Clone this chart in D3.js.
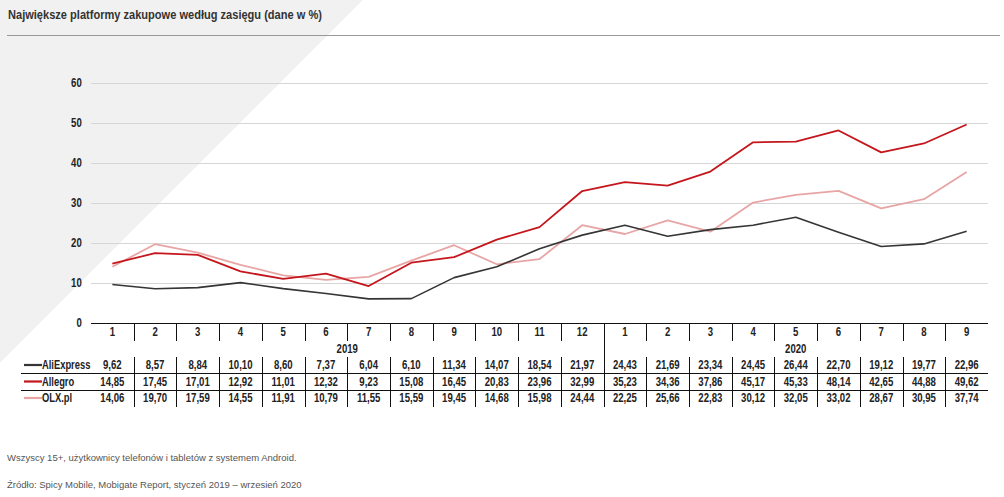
<!DOCTYPE html>
<html>
<head>
<meta charset="utf-8">
<script src="https://cdn.jsdelivr.net/npm/d3@7"></script>
<style>
  body { margin: 0; background: #fff; }
  svg text { font-family: "Liberation Sans", Arial, sans-serif; }
</style>
</head>
<body>
<div id="chart"></div>
<script>
// month labels along the x axis
const months = [1,2,3,4,5,6,7,8,9,10,11,12,1,2,3,4,5,6,7,8,9];
const years = [{label: '2019', from: 0, to: 11}, {label: '2020', from: 12, to: 20}];

const aliexpress = [9.62,8.57,8.84,10.10,8.60,7.37,6.04,6.10,11.34,14.07,18.54,21.97,24.43,21.69,23.34,24.45,26.44,22.70,19.12,19.77,22.96];
const allegro    = [14.85,17.45,17.01,12.92,11.01,12.32,9.23,15.08,16.45,20.83,23.96,32.99,35.23,34.36,37.86,45.17,45.33,48.14,42.65,44.88,49.62];
const olx        = [14.06,19.70,17.59,14.55,11.91,10.79,11.55,15.59,19.45,14.68,15.98,24.44,22.25,25.66,22.83,30.12,32.05,33.02,28.67,30.95,37.74];

const seriesNames = ['AliExpress', 'Allegro', 'OLX.pl'];
const seriesColors = ['#353535', '#c4161c', '#e8a5a5'];
const yTicks = [0,10,20,30,40,50,60];

const W = 1004, H = 497;
const plotLeft = 91, plotRight = 988, plotTop = 83, plotBottom = 323;
const squeeze = 0.8; // no narrow font installed, so squash text horizontally

const svg = d3.select('#chart').append('svg')
  .attr('width', W).attr('height', H);

// narrow text helper
function ntext(g, px, py, sx) {
  return g.append('text')
    .attr('transform', `translate(${px},${py}) scale(${sx || squeeze},1)`);
}

// grey diagonal background
svg.append('path')
  .attr('d', `M0,0 L363,0 L0,363 Z`)
  .attr('fill', '#f1f1f1');

// title and rule
ntext(svg, 8, 19, 0.82)
  .attr('font-size', 13.5).attr('font-weight', 'bold').attr('fill', '#333')
  .text('Największe platformy zakupowe według zasięgu (dane w %)');
svg.append('line')
  .attr('x1', 7).attr('x2', 1000).attr('y1', 35.5).attr('y2', 35.5)
  .attr('stroke', '#999').attr('stroke-width', 1);

const x = d3.scaleBand()
  .domain(d3.range(months.length))
  .range([plotLeft, plotRight]);

const y = d3.scaleLinear()
  .domain([0, 60])
  .range([plotBottom, plotTop]);

// gridlines
svg.append('g')
  .selectAll('line')
  .data(yTicks.filter(d => d > 0))
  .enter().append('line')
    .attr('x1', plotLeft).attr('x2', plotRight)
    .attr('y1', d => Math.round(y(d)) + 0.5).attr('y2', d => Math.round(y(d)) + 0.5)
    .attr('stroke', '#d6d6d6');

// y axis labels
let yAxis = svg.append('g')
  .attr('transform', `translate(${plotLeft},0)`)
  .call(d3.axisLeft(y).tickValues(yTicks).tickSize(0).tickPadding(11.5));
yAxis.select('.domain').remove();
yAxis.selectAll('text')
  .attr('transform', `scale(${squeeze},1)`)
  .attr('font-size', 12).attr('font-weight', 'bold').attr('fill', '#222')
  .style('font-family', '"Liberation Sans", Arial, sans-serif');

// baseline
svg.append('line')
  .attr('x1', plotLeft).attr('x2', plotRight)
  .attr('y1', plotBottom + 0.5).attr('y2', plotBottom + 0.5)
  .attr('stroke', '#111');

// lines
const allSeries = [aliexpress, allegro, olx];
const line = d3.line()
  .x((d, i) => x(i) + x.bandwidth() / 2)
  .y(d => y(d));

// draw pink first, then grey, then red on top
[2, 0, 1].forEach(k => {
  svg.append('path')
    .datum(allSeries[k])
    .attr('fill', 'none')
    .attr('stroke', seriesColors[k])
    .attr('stroke-width', k == 0 ? 1.6 : 1.8)
    .attr('stroke-linejoin', 'round')
    .attr('d', line);
});

// month row
months.forEach((m, i) => {
  ntext(svg, x(i) + x.bandwidth() / 2, 336)
    .attr('text-anchor', 'middle')
    .attr('font-size', 12).attr('font-weight', 'bold').attr('fill', '#222')
    .text(m);
});

// year labels
years.forEach(d => {
  ntext(svg, (x(d.from) + x(d.to) + x.bandwidth()) / 2, 353)
    .attr('text-anchor', 'middle')
    .attr('font-size', 12).attr('font-weight', 'bold').attr('fill', '#222')
    .text(d.label);
});

// column dividers
const dividers = d3.range(1, months.length);
svg.append('g').selectAll('line')
  .data(dividers)
  .enter().append('line')
    .attr('x1', i => Math.round(x(i)) + 0.5).attr('x2', i => Math.round(x(i)) + 0.5)
    .attr('y1', plotBottom)
    .attr('y2', 341)
    .attr('stroke', '#111');

svg.append('g').selectAll('line')
  .data(dividers)
  .enter().append('line')
    .attr('x1', i => Math.round(x(i)) + 0.5).attr('x2', i => Math.round(x(i)) + 0.5)
    .attr('y1', i => i == 12 ? 341 : 357)
    .attr('y2', 407)
    .attr('stroke', '#111');

// table rows
const rowY = [365, 381.5, 398];
const rowLines = [373, 390];
svg.append('g').selectAll('line')
  .data(rowLines)
  .enter().append('line')
    .attr('x1', 21).attr('x2', plotRight)
    .attr('y1', d => d + 0.5).attr('y2', d => d + 0.5)
    .attr('stroke', '#111');

allSeries.forEach((vals, k) => {
  // legend swatch + name
  svg.append('line')
    .attr('x1', 24).attr('x2', 42)
    .attr('y1', rowY[k]).attr('y2', rowY[k])
    .attr('stroke', seriesColors[k]).attr('stroke-width', 2.2);
  ntext(svg, 42, rowY[k] + 4.3, 0.78)
    .attr('font-size', 12).attr('font-weight', 'bold').attr('fill', '#222')
    .text(seriesNames[k]);

  vals.forEach((v, i) => {
    ntext(svg, x(i) + x.bandwidth() / 2, rowY[k] + 4.3)
      .attr('text-anchor', 'middle')
      .attr('font-size', 12).attr('font-weight', 'bold').attr('fill', '#222')
      .text(v.toFixed(2).replace('.', ','));
  });
});

// footnotes
svg.append('text')
  .attr('x', 7).attr('y', 461)
  .attr('font-size', 9.5).attr('fill', '#555')
  .text('Wszyscy 15+, użytkownicy telefonów i tabletów z systemem Android.');
svg.append('text')
  .attr('x', 7).attr('y', 488)
  .attr('font-size', 9.5).attr('fill', '#555')
  .text('Źródło: Spicy Mobile, Mobigate Report, styczeń 2019 – wrzesień 2020');
</script>
</body>
</html>
